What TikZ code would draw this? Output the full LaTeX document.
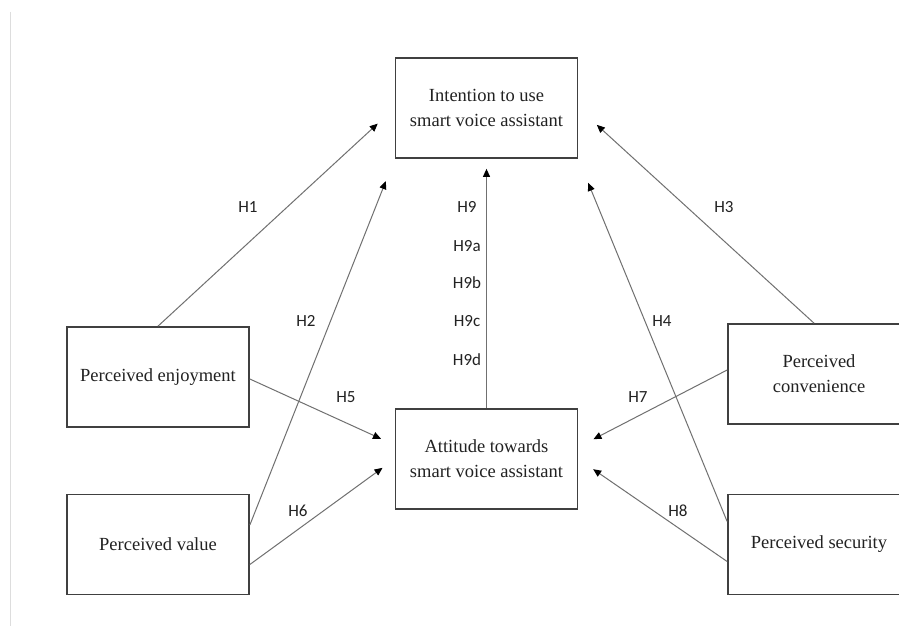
\documentclass[tikz,border=0pt]{standalone}
\usepackage{fontspec}
\setmainfont{Liberation Serif}
\newfontfamily\labfont{Carlito}
\usetikzlibrary{arrows.meta}
\definecolor{boxline}{HTML}{404040}
\definecolor{arrline}{HTML}{707070}
\definecolor{txt}{HTML}{222222}
\definecolor{edgeline}{HTML}{DDDDDD}
\begin{document}
\begin{tikzpicture}[x=1pt,y=-1pt,
  box/.style={draw=boxline,line width=1.7pt,minimum width=182pt,minimum height=100pt,inner sep=0pt,align=center,font=\fontsize{18.5}{25}\selectfont,text=txt},
  conn/.style={draw=arrline,line width=1pt,-{Triangle[length=8pt,width=7pt,color=black]}},
  hlab/.style={font=\labfont\fontsize{17}{18}\selectfont,text=txt,inner sep=0pt}]
\useasboundingbox (0,0) rectangle (899,626);
\clip (0,0) rectangle (899,626);
\fill[white] (0,0) rectangle (899,626);
\draw[edgeline,line width=1pt] (10,12) -- (10,626);
% boxes
\node[box] (intent) at (486.5,108) {Intention to use\\smart voice assistant};
\node[box] (attit) at (486.5,459) {Attitude towards\\smart voice assistant};
\node[box] (enjoy) at (158,377) {Perceived enjoyment};
\node[box] (value) at (158,544.5) {Perceived value};
\node[box] (conv) at (819,374) {Perceived\\convenience};
\node[box] (secu) at (819,544.5) {Perceived security};
% connectors
\draw[conn,shorten >=23pt] (enjoy.north) -- (intent.west);
\draw[conn,shorten >=24pt] ([yshift=19.5pt]value.east) -- (intent.south west);
\draw[conn,shorten >=25pt] ([xshift=-5pt]conv.north) -- (intent.east);
\draw[conn,shorten >=26pt] ([yshift=23pt]secu.west) -- (intent.south east);
\draw[conn,shorten >=10pt] (attit.north) -- (intent.south);
\draw[conn,shorten >=15pt] ([yshift=-2pt]enjoy.east) -- ([yshift=14pt]attit.west);
\draw[conn,shorten >=15pt] ([yshift=-20pt]value.east) -- (attit.west);
\draw[conn,shorten >=17pt] ([yshift=4pt]conv.west) -- ([yshift=12pt]attit.east);
\draw[conn,shorten >=18pt] ([yshift=-17pt]secu.west) -- (attit.east);
% labels
\node[hlab] (l1) at (248,207) {H1};
\node[hlab] (l2) at (306,321) {H2};
\node[hlab] (l3) at (724,207) {H3};
\node[hlab] (l4) at (662,321) {H4};
\node[hlab] (l5) at (346,397) {H5};
\node[hlab] (l6) at (298,511) {H6};
\node[hlab] (l7) at (638,397) {H7};
\node[hlab] (l8) at (678,511) {H8};
\node[hlab] (l9) at (467,207) {H9};
\node[hlab] (l9a) at (467,246) {H9a};
\node[hlab] (l9b) at (467,283) {H9b};
\node[hlab] (l9c) at (467,321) {H9c};
\node[hlab] (l9d) at (467,360) {H9d};
\end{tikzpicture}
\end{document}
